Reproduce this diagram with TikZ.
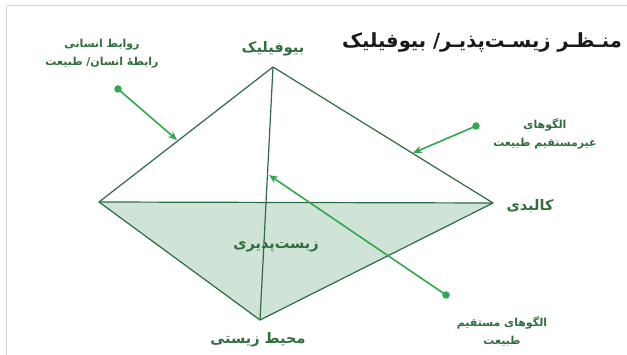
\documentclass[tikz,border=0pt]{standalone}
\usepackage{fontspec}
\usetikzlibrary{arrows.meta}
\newfontfamily\arabicfont[Script=Arabic]{DejaVu Sans}
\TeXXeTstate=1
\definecolor{edgegreen}{HTML}{2E6B45}
\definecolor{fillgreen}{HTML}{CFE4D6}
\definecolor{arrowgreen}{HTML}{2FA84F}
\definecolor{labelgreen}{HTML}{2F6E3E}
\definecolor{framegray}{HTML}{D4D8DC}
\tikzset{
  bigfa/.style={font=\arabicfont\bfseries\fontsize{14.5}{16}\selectfont, text=labelgreen, inner sep=0pt},
  smallfa/.style={font=\arabicfont\bfseries\fontsize{11}{18}\selectfont, text=labelgreen, inner sep=0pt, align=center},
  titlefa/.style={font=\arabicfont\bfseries\fontsize{19.5}{21}\selectfont, text=black!90, inner sep=0pt},
  edge/.style={draw=edgegreen, line width=1.2pt},
  dot/.style={circle, fill=arrowgreen, inner sep=0pt, minimum size=7.5pt},
  pointer/.style={draw=arrowgreen, line width=1.6pt, -{Stealth[length=9pt,width=7.5pt]}}
}
\begin{document}
\begin{tikzpicture}[x=1pt,y=-1pt]
\useasboundingbox (0,0) rectangle (627,355);
\fill[white] (0,0) rectangle (627,355);
\draw[framegray, line width=1pt] (6,355) -- (6,6) -- (627,6);
% vertices
\coordinate (T) at (273,67);
\coordinate (L) at (99,202);
\coordinate (R) at (493,203);
\coordinate (B) at (260,320);
\fill[fillgreen] (L) -- (R) -- (B) -- cycle;
\draw[edge, line join=round] (L) -- (T) -- (R) -- (B) -- cycle;
\draw[edge] (L) -- (R);
\draw[edge] (T) -- (B);
% arrows
\node[dot] (d1) at (118,89) {};
\coordinate (h1) at (177,140);
\draw[pointer] (d1.center) -- (h1);
\node[dot] (d2) at (476,126) {};
\coordinate (h2) at (413,153);
\draw[pointer] (d2.center) -- (h2);
\node[dot] (d3) at (446,295) {};
\coordinate (h3) at (269,175);
\draw[pointer] (d3.center) -- (h3);
% labels
\node[titlefa] (title) at (482,42) {\beginR منـظـر زیسـت‌پذیـر/ بیوفیلیک\endR};
\node[bigfa] (bio) at (273,49) {\beginR بیوفیلیک\endR};
\node[bigfa] (kal) at (530,206) {\beginR کالبدی\endR};
\node[bigfa] (zist) at (276,246) {\beginR زیست‌پذیری\endR};
\node[bigfa] (mohit) at (258,340) {\beginR محیط زیستی\endR};
\node[smallfa] (rav) at (102,54) {\beginR روابط انسانی\endR\\\beginR رابطهٔ انسان/ طبیعت\endR};
\node[smallfa] (gher) at (545,134) {\beginR الگوهای\endR\\\beginR غیرمستقیم طبیعت\endR};
\node[smallfa] (mos) at (502,331) {\beginR الگوهای مستقیم\endR\\\beginR طبیعت\endR};
\end{tikzpicture}
\end{document}
